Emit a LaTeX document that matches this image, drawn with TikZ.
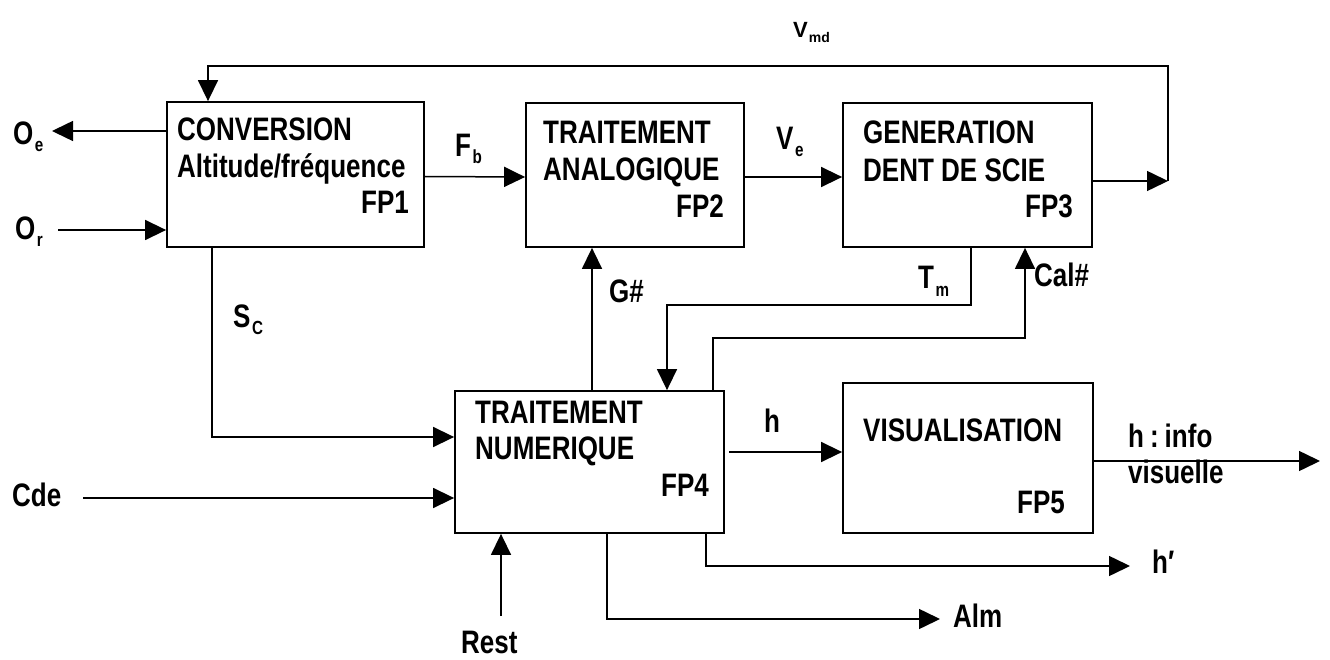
\documentclass[tikz,border=0pt]{standalone}
\usepackage{fontspec}
\setmainfont{Liberation Sans}[FakeStretch=0.8]
\newfontfamily\widefont{Liberation Sans}
\usetikzlibrary{arrows.meta}
\newcommand\lsub[1]{\kern1.5pt\raisebox{-7pt}{\fontsize{19}{19}\selectfont #1}}
\tikzset{
  blk/.style={draw, line width=1.8pt, inner sep=0pt},
  arr/.style={line width=1.5pt, -{Triangle[length=21pt,width=20pt]}},
  txt/.style={anchor=base west, inner sep=0pt},
  txe/.style={anchor=base east, inner sep=0pt},
}
\begin{document}
\begin{tikzpicture}[x=1pt,y=-1pt,font=\bfseries\fontsize{32.5}{37}\selectfont]
\useasboundingbox (0,0) rectangle (1330,660);
% boxes
\node[blk, minimum width=257pt, minimum height=145pt] (b1) at (295.5,174.5) {};
\node[blk, minimum width=218pt, minimum height=144pt] (b2) at (635,175) {};
\node[blk, minimum width=249pt, minimum height=144pt] (b3) at (967.5,175) {};
\node[blk, minimum width=269pt, minimum height=142pt] (b4) at (589.5,462) {};
\node[blk, minimum width=250pt, minimum height=150pt] (b5) at (968,458) {};
% box texts
\node[txt] (t1a) at (177,141) {CONVERSION};
\node[txt] (t1b) at (177,178) {Altitude/fréquence};
\node[txe] (t1c) at (409,214) {FP1};
\node[txt] (t2a) at (543,144) {TRAITEMENT};
\node[txt] (t2b) at (543,181) {ANALOGIQUE};
\node[txe] (t2c) at (724,218) {FP2};
\node[txt] (t3a) at (863,144) {GENERATION};
\node[txt] (t3b) at (863,182) {DENT DE SCIE};
\node[txe] (t3c) at (1073,218) {FP3};
\node[txt] (t4a) at (475,423) {TRAITEMENT};
\node[txt] (t4b) at (475,459) {NUMERIQUE};
\node[txe] (t4c) at (709,496) {FP4};
\node[txt] (t5a) at (863,441) {VISUALISATION};
\node[txe] (t5c) at (1065,513) {FP5};
% labels
\node[txt] (oe) at (13,145) {O\lsub{e}};
\node[txt] (or) at (15,240) {O\lsub{r}};
\node[txt] (fb) at (455,157) {F\lsub{b}};
\node[txt] (ve) at (776,150) {V\lsub{e}};
\node[txt, font=\widefont\bfseries\fontsize{22}{22}\selectfont] (vmd) at (793,38) {V\kern1pt\raisebox{-5pt}{\fontsize{14}{14}\selectfont md}};
\node[txt] (sc) at (233,327) {S\lsub{C}};
\node[txt] (cde) at (12,506) {Cde};
\node[txt] (gl) at (609,302) {G\#};
\node[txt] (tml) at (918,289) {T\lsub{m}};
\node[txt] (cal) at (1034,287) {Cal\#};
\node[txt] (hl) at (764,432) {h};
\node[txt] (hi1) at (1128,447) {h\kern6pt:\kern6pt info};
\node[txt] (hi2) at (1128,483) {visuelle};
\node[txt] (hpl) at (1152,573) {h\char"2032};
\node[txt] (alm) at (953,627) {Alm};
\node[txt] (rest) at (461,653) {Rest};
% coordinates
\coordinate (vr) at (1168,181);
\coordinate (vt) at (1168,66);
\coordinate (vl) at (208,66);
\coordinate (oeT) at (52,131);
\coordinate (orS) at (58,230);
\coordinate (scC) at (212,437);
\coordinate (cdeS) at (83,498);
\coordinate (gC) at (592,320);
\coordinate (tm1) at (971,305);
\coordinate (tm2) at (667,305);
\coordinate (cal1) at (713,338);
\coordinate (cal2) at (1025,338);
\coordinate (hs) at (729,452);
\coordinate (hie) at (1320,461);
\coordinate (hp1) at (706,566);
\coordinate (hp2) at (1130,566);
\coordinate (al1) at (607,619);
\coordinate (al2) at (940,619);
\coordinate (rs) at (501,616);
% connectors
\draw[arr] (b3.east |- vr) -- (vr);
\draw[arr] (vr) -- (vt) -- (vl) -- (vl |- b1.north);
\draw[arr] (b1.west |- oeT) -- (oeT);
\draw[arr] (orS) -- (orS -| b1.west);
\draw[arr] ([yshift=-2pt]b1.east) -- ([yshift=-2pt]b2.west);
\draw[arr] ([yshift=-2pt]b2.east) -- ([yshift=-2pt]b3.west);
\draw[arr] (scC |- b1.south) -- (scC) -- (scC -| b4.west);
\draw[arr] (cdeS) -- (cdeS -| b4.west);
\draw[arr] (gC |- b4.north) -- (gC |- b2.south);
\draw[arr] (tm1 |- b3.south) -- (tm1) -- (tm2) -- (tm2 |- b4.north);
\draw[arr] (cal1 |- b4.north) -- (cal1) -- (cal2) -- (cal2 |- b3.south);
\draw[arr] (hs) -- (hs -| b5.west);
\draw[arr] (b5.east |- hie) -- (hie);
\draw[arr] (hp1 |- b4.south) -- (hp1) -- (hp2);
\draw[arr] (al1 |- b4.south) -- (al1) -- (al2);
\draw[arr] (rs) -- (rs |- b4.south);
\end{tikzpicture}
\end{document}
